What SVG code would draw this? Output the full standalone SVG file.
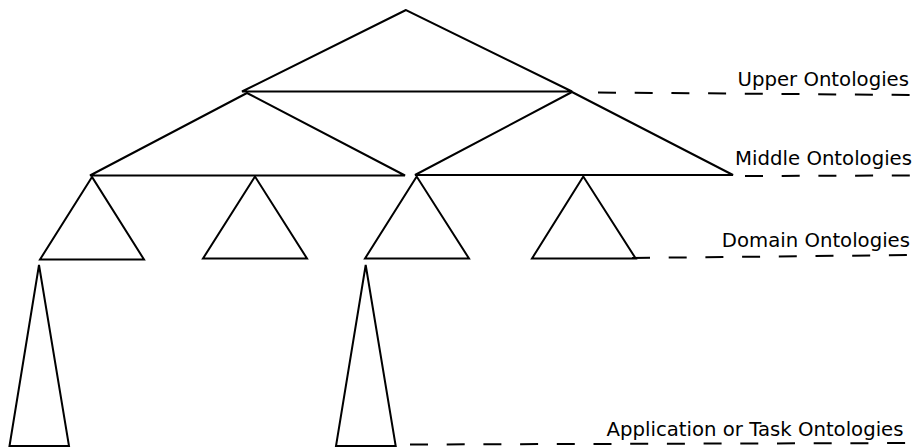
<svg xmlns="http://www.w3.org/2000/svg" width="913" height="448" viewBox="0 0 913 448">
  <style>
    .tri { fill: none; stroke: #000; stroke-width: 2; stroke-linejoin: miter; }
    .level { fill: none; stroke: #000; stroke-width: 2; stroke-dasharray: 18 18.7; }
    .label { font-family: "DejaVu Sans", "Liberation Sans", sans-serif; font-size: 19.7px; fill: #000; text-anchor: end; }
  </style>
  <rect width="913" height="448" fill="#fff"/>

  <!-- upper ontology -->
  <g id="upper">
    <polygon class="tri" points="406,10 242,91.5 572,91.5"/>
  </g>

  <!-- middle ontologies -->
  <g id="middle-left">
    <polygon class="tri" points="247,93 90,175.5 405,175.5"/>
  </g>
  <g id="middle-right">
    <polygon class="tri" points="572,92 415,175 733,175"/>
  </g>

  <!-- domain ontologies -->
  <g id="domain-1">
    <polygon class="tri" points="92,177 40,259.5 144,259.5"/>
  </g>
  <g id="domain-2">
    <polygon class="tri" points="255,176.5 203,258.5 307,258.5"/>
  </g>
  <g id="domain-3">
    <polygon class="tri" points="416.7,176.5 365,258.5 469,258.5"/>
  </g>
  <g id="domain-4">
    <polygon class="tri" points="583.3,176.5 532,258.5 635.7,258.5"/>
  </g>

  <!-- application / task ontologies -->
  <g id="application-1">
    <polygon class="tri" points="39,265 9.5,446 69,446"/>
  </g>
  <g id="application-2">
    <polygon class="tri" points="365.7,265 336,446 395.7,446"/>
  </g>

  <!-- level separators -->
  <g id="connectors">
    <line class="level" x1="598" y1="92.5" x2="913" y2="95"/>
    <line class="level" x1="745" y1="176" x2="913" y2="175.5"/>
    <line class="level" x1="632" y1="258" x2="913" y2="255"/>
    <line class="level" x1="410" y1="444.5" x2="913" y2="443"/>
  </g>

  <!-- level labels -->
  <g id="labels">
    <text class="label" x="909" y="86">Upper Ontologies</text>
    <text class="label" x="912" y="165">Middle Ontologies</text>
    <text class="label" x="910" y="247">Domain Ontologies</text>
    <text class="label" x="903.5" y="436">Application or Task Ontologies</text>
  </g>
</svg>
